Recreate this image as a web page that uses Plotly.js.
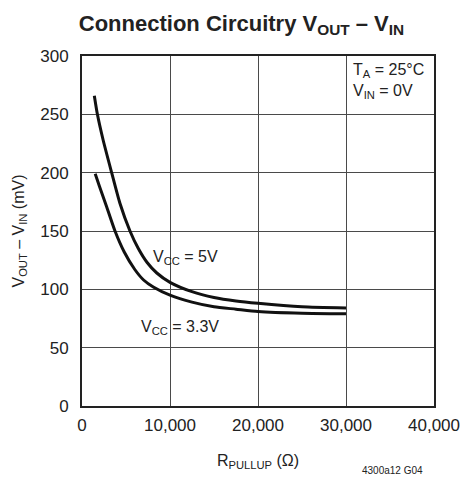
<!DOCTYPE html>
<html>
<head>
<meta charset="utf-8">
<script src="https://cdn.plot.ly/plotly-3.0.1.min.js"></script>
<style>
html,body{margin:0;padding:0;background:#fff;}
#chart{width:460px;height:479px;}
</style>
</head>
<body>
<div id="chart"></div>
<script>
var rPullup5 = [1400, 1750, 2400, 3370, 4300, 5450, 6400, 7400, 8500, 10000, 12500, 15000, 17500, 20000, 25000, 30000];
var vcc5 = [266, 250, 228, 200, 174, 150, 135, 123, 114, 106, 98, 93, 90, 88, 85, 84];
var rPullup33 = [1500, 2000, 2700, 3750, 4800, 6000, 7000, 8100, 10000, 12500, 15000, 17500, 20000, 25000, 30000];
var vcc33 = [199, 188, 173, 150, 132, 117, 108, 102, 95, 89, 85, 83, 81, 79.5, 79];
var xTicks = [0, 10000, 20000, 30000, 40000];
var yTicks = [0, 50, 100, 150, 200, 250, 300];

var FONT = '"Liberation Sans", Arial, sans-serif';

var lineStyle = {color: '#111', width: 3, shape: 'spline', smoothing: 0.6};
var traces = [
  {x: rPullup5, y: vcc5, mode: 'lines', line: lineStyle, hoverinfo: 'none', name: 'VCC = 5V'},
  {x: rPullup33, y: vcc33, mode: 'lines', line: lineStyle, hoverinfo: 'none', name: 'VCC = 3.3V'}
];

var layout = {
  width: 460, height: 479,
  margin: {l: 82, r: 26, t: 56, b: 73},
  paper_bgcolor: '#fff', plot_bgcolor: '#fff',
  showlegend: false,
  font: {family: FONT, size: 16, color: '#222'},
  title: {
    text: '<b>Connection Circuitry V<sub>OUT</sub> – V<sub>IN</sub></b>',
    font: {family: FONT, size: 22, color: '#222'},
    x: 0.525, xanchor: 'center', y: 0.952, yanchor: 'middle'
  },
  xaxis: {
    range: [0, 40000], tickvals: xTicks, ticktext: xTicks.map(function(v){return v.toLocaleString('en-US');}),
    showgrid: true, gridcolor: '#4a4a4a', gridwidth: 1,
    showline: true, linecolor: '#222', linewidth: 2, mirror: true,
    zeroline: false, ticks: '', ticklen: 0, ticklabelstandoff: 3,
    tickfont: {family: FONT, size: 17, color: '#222'},
    title: {text: 'R<sub>PULLUP</sub> (Ω)', font: {family: FONT, size: 16, color: '#222'}, standoff: 20},
    fixedrange: true
  },
  yaxis: {
    range: [0, 300], tickvals: yTicks,
    showgrid: true, gridcolor: '#4a4a4a', gridwidth: 1,
    showline: true, linecolor: '#222', linewidth: 2, mirror: true,
    zeroline: false, ticks: '', ticklen: 0, ticklabelstandoff: 8,
    tickfont: {family: FONT, size: 17, color: '#222'},
    title: {text: 'V<sub>OUT</sub> – V<sub>IN</sub> (mV)', font: {family: FONT, size: 16, color: '#222'}, standoff: 12},
    fixedrange: true
  },
  annotations: [
    {xref: 'x', yref: 'y', x: 30600, y: 288, text: 'T<sub>A</sub> = 25°C', showarrow: false, xanchor: 'left', yanchor: 'middle', font: {family: FONT, size: 16, color: '#222'}},
    {xref: 'x', yref: 'y', x: 30600, y: 270, text: 'V<sub>IN</sub> = 0V', showarrow: false, xanchor: 'left', yanchor: 'middle', font: {family: FONT, size: 16, color: '#222'}},
    {xref: 'x', yref: 'y', x: 7800, y: 127, text: 'V<sub>CC</sub> = 5V', showarrow: false, xanchor: 'left', yanchor: 'middle', font: {family: FONT, size: 16, color: '#222'}},
    {xref: 'x', yref: 'y', x: 6500, y: 67, text: 'V<sub>CC</sub> = 3.3V', showarrow: false, xanchor: 'left', yanchor: 'middle', font: {family: FONT, size: 16, color: '#222'}},
    {xref: 'paper', yref: 'paper', x: 0.975, y: -0.183, text: '4300a12 G04', showarrow: false, xanchor: 'right', yanchor: 'middle', font: {family: FONT, size: 10, color: '#222'}}
  ]
};

Plotly.newPlot('chart', traces, layout, {staticPlot: true, displayModeBar: false});
</script>
</body>
</html>
